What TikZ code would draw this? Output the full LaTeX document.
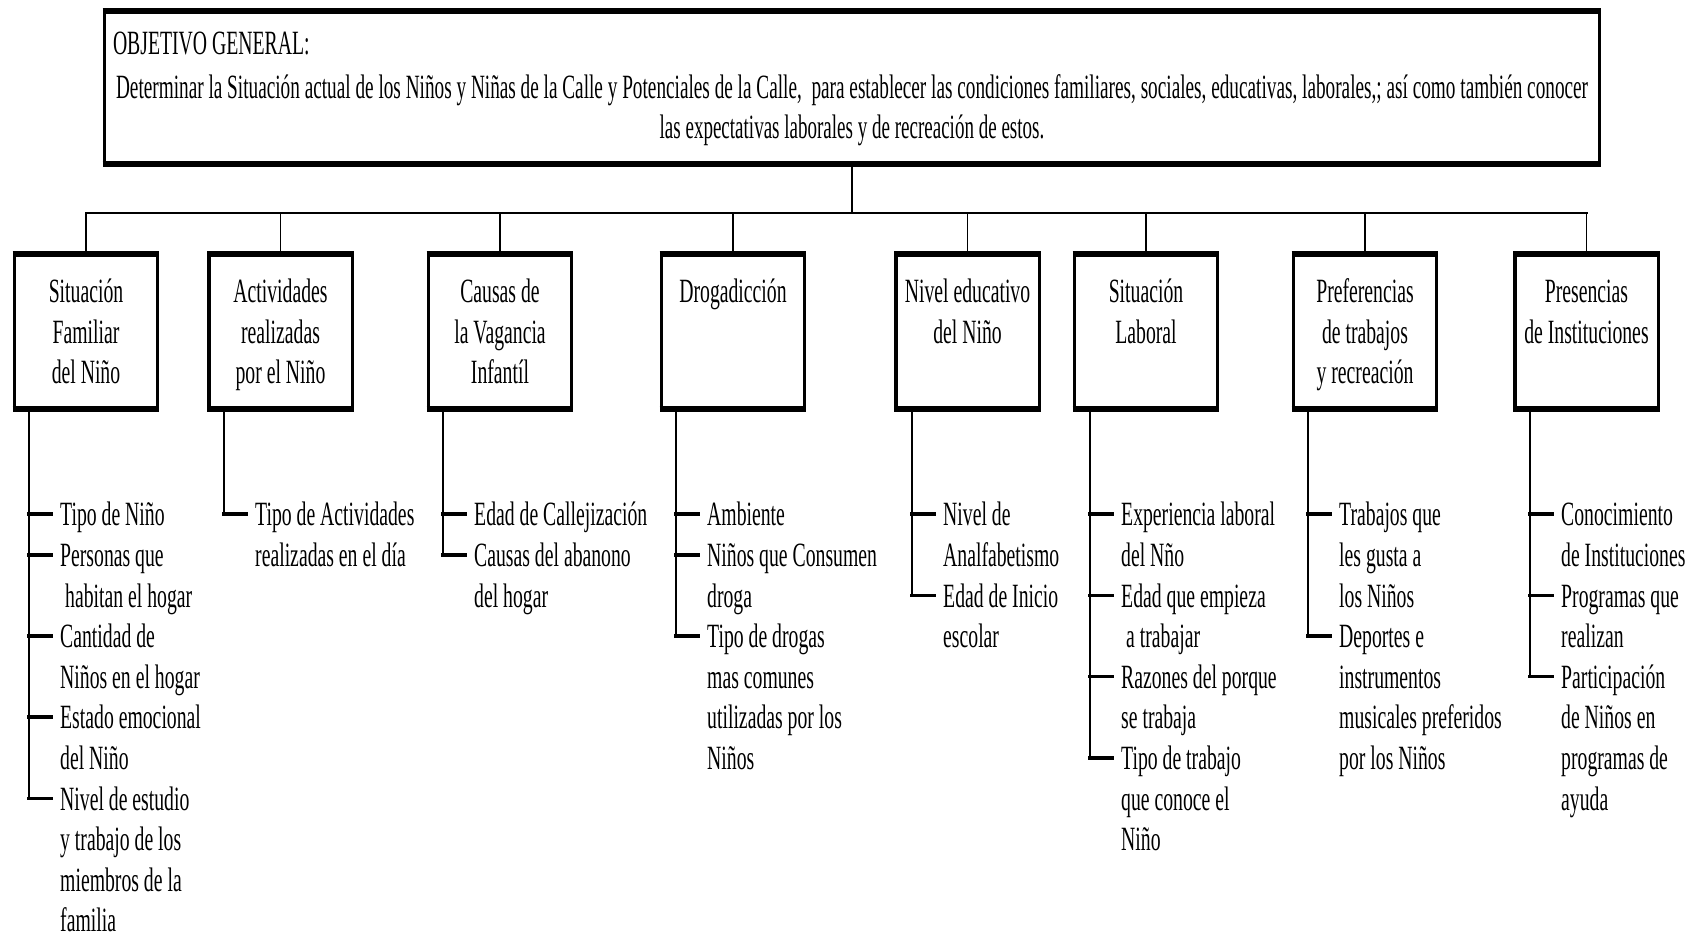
\documentclass[tikz,border=0pt]{standalone}
\usepackage{graphicx}
\usepackage{fontspec}
\setmainfont{Liberation Serif}[FakeStretch=0.58]
\newcommand\diagfont{\fontsize{34pt}{40.6pt}\selectfont}
% frame with heavier horizontal edges than vertical ones
\newcommand\heavyframe[1]{%
  \draw[vedge] (#1.north west) -- (#1.south west) (#1.north east) -- (#1.south east);
  \draw[hedge] ([xshift=-1.7pt]#1.north west) -- ([xshift=1.7pt]#1.north east)
               ([xshift=-1.7pt]#1.south west) -- ([xshift=1.7pt]#1.south east);}
\newcommand\boxtext[1]{\parbox[c][115pt][t]{140pt}{\centering\strut #1}}
% one list entry: name, stem coordinate, x of tick end, row index, text
\newcommand\itm[5]{%
  \coordinate (#1k) at ({#3},{514.2+40.6*#4});
  \draw[tick] (#2 |- #1k) -- (#1k);
  \node[item] (#1) at ([xshift=9pt,yshift=17pt]#1k) {\strut #5};}
\begin{document}
\begin{tikzpicture}[x=1pt,y=-1pt,
  hedge/.style={line width=5.7pt},
  vedge/.style={line width=3.4pt},
  busline/.style={line width=2.7pt},
  dropline/.style={line width=1.9pt},
  stem/.style={line width=2.4pt},
  tick/.style={line width=3.6pt, line cap=rect},
  catbox/.style={minimum width=143pt, minimum height=155pt, inner sep=0pt, font=\diagfont},
  topbox/.style={minimum width=1495pt, minimum height=152pt, inner sep=0pt, font=\diagfont},
  item/.style={anchor=north west, inner sep=0pt, align=left, font=\diagfont}]
\useasboundingbox (0,0) rectangle (1705,935);
\fill[white] (0,0) rectangle (1705,935);

% general objective
\node[topbox] (obj) at (852,87.5) {\parbox[c][123pt][t]{1478pt}{\strut OBJETIVO GENERAL:\par\vspace{3pt}\centering
  \scalebox{0.976}[1]{Determinar la Situación actual de los Niños y Niñas de la Calle y Potenciales de la Calle,\ \ para establecer las condiciones familiares, sociales, educativas, laborales,; así como también conocer}\\
  \scalebox{0.965}[1]{las expectativas laborales y de recreación de estos.}}};
\heavyframe{obj}

% categories
\node[catbox] (c1) at (86,331.5)   {\boxtext{Situación\\Familiar\\del Niño}};
\node[catbox] (c2) at (280.5,331.5) {\boxtext{Actividades\\realizadas\\por el Niño}};
\node[catbox] (c3) at (500,331.5)  {\boxtext{Causas de\\la Vagancia\\Infantíl}};
\node[catbox] (c4) at (733,331.5)  {\boxtext{Drogadicción}};
\node[catbox] (c5) at (967.5,331.5) {\boxtext{Nivel educativo\\del Niño}};
\node[catbox] (c6) at (1146,331.5) {\boxtext{Situación\\Laboral}};
\node[catbox] (c7) at (1365,331.5) {\boxtext{Preferencias\\de trabajos\\y recreación}};
\node[catbox] (c8) at (1586.5,331.5) {\boxtext{Presencias\\de Instituciones}};
\foreach \c in {c1,c2,c3,c4,c5,c6,c7,c8} {\heavyframe{\c}}

% tree connectors
\coordinate (bus) at (852,213);
\draw[dropline] (obj.south) -- (bus);
\draw[busline, line cap=rect] (c1.north |- bus) -- (c8.north |- bus);
\foreach \c in {c1,c2,c3,c4,c5,c6,c7,c8} {\draw[dropline] (\c.north) -- (\c.north |- bus);}

% stems under the categories
\coordinate (s1) at (29,409);
\coordinate (s2) at (224,409);
\coordinate (s3) at (443,409);
\coordinate (s4) at (676,409);
\coordinate (s5) at (912,409);
\coordinate (s6) at (1090,409);
\coordinate (s7) at (1308,409);
\coordinate (s8) at (1530,409);

% entries
\itm{a1}{s1}{51}{0}{Tipo de Niño}
\itm{a2}{s1}{51}{1}{Personas que\\\hspace*{5pt}habitan el hogar}
\itm{a3}{s1}{51}{3}{Cantidad de\\Niños en el hogar}
\itm{a4}{s1}{51}{5}{Estado emocional\\del Niño}
\itm{a5}{s1}{51}{7}{Nivel de estudio\\y trabajo de los\\miembros de la\\familia}
\draw[stem] (s1) -- (s1 |- a5k);

\itm{b1}{s2}{246}{0}{Tipo de Actividades\\realizadas en el día}
\draw[stem] (s2) -- (s2 |- b1k);

\itm{d1}{s3}{465}{0}{Edad de Callejización}
\itm{d2}{s3}{465}{1}{Causas del abanono\\del hogar}
\draw[stem] (s3) -- (s3 |- d2k);

\itm{e1}{s4}{698}{0}{Ambiente}
\itm{e2}{s4}{698}{1}{Niños que Consumen\\droga}
\itm{e3}{s4}{698}{3}{Tipo de drogas\\mas comunes\\utilizadas por los\\Niños}
\draw[stem] (s4) -- (s4 |- e3k);

\itm{f1}{s5}{934}{0}{Nivel de\\Analfabetismo}
\itm{f2}{s5}{934}{2}{Edad de Inicio\\escolar}
\draw[stem] (s5) -- (s5 |- f2k);

\itm{g1}{s6}{1112}{0}{Experiencia laboral\\del Nño}
\itm{g2}{s6}{1112}{2}{Edad que empieza\\\hspace*{5pt}a trabajar}
\itm{g3}{s6}{1112}{4}{Razones del porque\\se trabaja}
\itm{g4}{s6}{1112}{6}{Tipo de trabajo\\que conoce el\\Niño}
\draw[stem] (s6) -- (s6 |- g4k);

\itm{h1}{s7}{1330}{0}{Trabajos que\\les gusta a\\los Niños}
\itm{h2}{s7}{1330}{3}{Deportes e\\instrumentos\\musicales preferidos\\por los Niños}
\draw[stem] (s7) -- (s7 |- h2k);

\itm{k1}{s8}{1552}{0}{Conocimiento\\de Instituciones}
\itm{k2}{s8}{1552}{2}{Programas que\\realizan}
\itm{k3}{s8}{1552}{4}{Participación\\de Niños en\\programas de\\ayuda}
\draw[stem] (s8) -- (s8 |- k3k);
\end{tikzpicture}
\end{document}
